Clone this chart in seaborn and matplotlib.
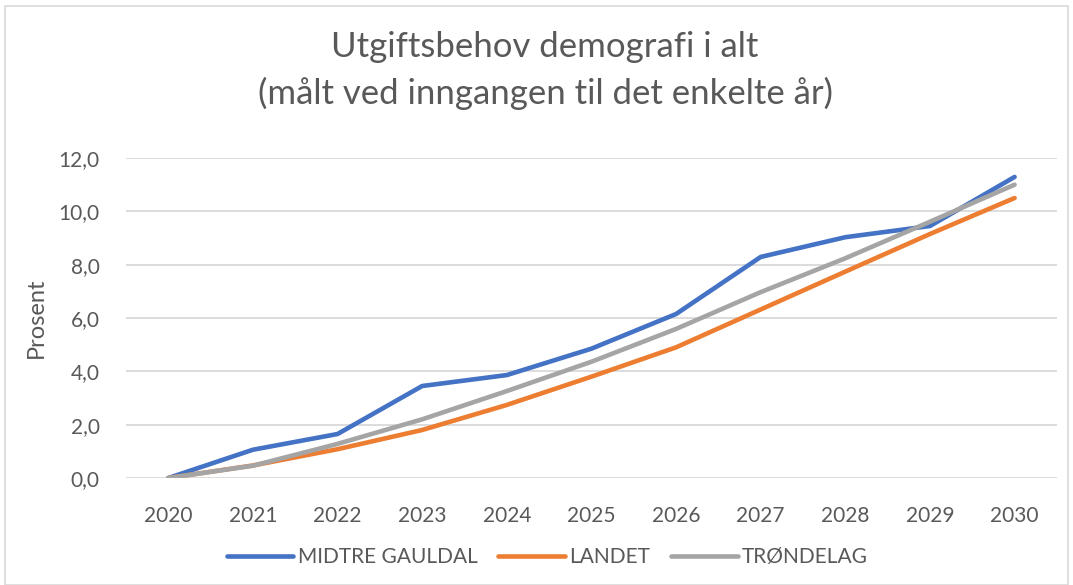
import pandas as pd
import matplotlib.pyplot as plt
import seaborn as sns
from matplotlib.patches import Rectangle

years = [2020, 2021, 2022, 2023, 2024, 2025, 2026, 2027, 2028, 2029, 2030]
midtre_gauldal = [0.0, 1.06, 1.65, 3.45, 3.86, 4.85, 6.15, 8.29, 9.03, 9.45, 11.29]
landet = [0.0, 0.47, 1.08, 1.80, 2.74, 3.80, 4.90, 6.32, 7.74, 9.15, 10.50]
trondelag = [0.0, 0.46, 1.28, 2.20, 3.26, 4.36, 5.59, 6.97, 8.24, 9.61, 11.00]

series_names = ['MIDTRE GAULDAL', 'LANDET', 'TRØNDELAG']
colors = ['#4472C4', '#ED7D31', '#A5A5A5']
y_ticks = [0, 2, 4, 6, 8, 10, 12]

df = pd.DataFrame({'År': years, series_names[0]: midtre_gauldal,
                   series_names[1]: landet, series_names[2]: trondelag})
long_df = df.melt(id_vars='År', var_name='Serie', value_name='Prosent')

sns.set_style('white')
plt.rcParams['font.family'] = ['Lato', 'DejaVu Sans']

fig = plt.figure(figsize=(10.73, 5.85), dpi=100)
ax = fig.add_axes([0.1174, 0.1829, 0.985 - 0.1174, 0.7299 - 0.1829])

sns.lineplot(data=long_df, x='År', y='Prosent', hue='Serie', hue_order=series_names,
             palette=colors, linewidth=3.3, ax=ax, legend=False,
             solid_capstyle='round')

ax.set_xlim(2019.5, 2030.5)
ax.set_ylim(0, 12)
ax.set_xticks(years)
ax.set_xticklabels([str(y) for y in years])
ax.set_yticks(y_ticks)
ax.set_yticklabels([f'{v:.1f}'.replace('.', ',') for v in y_ticks])
ax.tick_params(axis='both', length=0, labelsize=15, colors='#595959')
ax.tick_params(axis='x', pad=20)
ax.tick_params(axis='y', pad=19)
ax.grid(axis='y', color='#D9D9D9', linewidth=1.3)
ax.set_axisbelow(True)
for s in ax.spines.values():
    s.set_visible(False)
ax.set_xlabel('')
ax.set_ylabel('Prosent', fontsize=17, color='#595959', labelpad=8)

fig.text(0.508, 0.92, 'Utgiftsbehov demografi i alt', ha='center', va='center',
         fontsize=25, color='#595959')
fig.text(0.508, 0.84, '(målt ved inngangen til det enkelte år)', ha='center', va='center',
         fontsize=25, color='#595959')

handles = [plt.Line2D([0], [0], color=c, linewidth=3.3, solid_capstyle='round') for c in colors]
fig.legend(handles, series_names, loc='center', bbox_to_anchor=(0.51, 0.048), ncol=3,
           frameon=False, fontsize=15, handlelength=3.2, handletextpad=0.2,
           columnspacing=1.0, labelcolor='#595959')

fig.patches.append(Rectangle((0.005, 0.0), 0.99, 0.99, transform=fig.transFigure,
                             fill=False, edgecolor='#D9D9D9', linewidth=1.2))

fig.savefig('out.png', dpi=100)
plt.close()
